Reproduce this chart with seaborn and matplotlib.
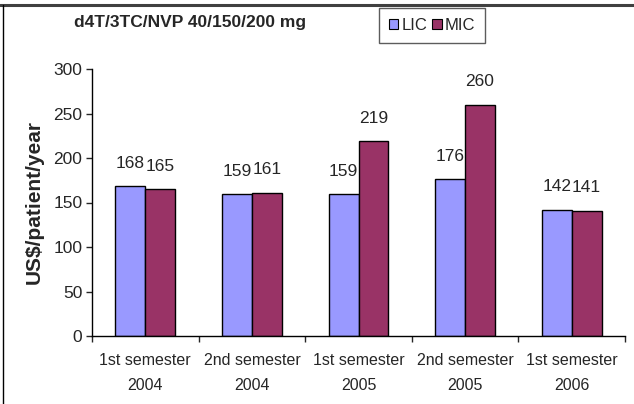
import numpy as np
import pandas as pd
import matplotlib
matplotlib.use('Agg')
import matplotlib.pyplot as plt
import seaborn as sns

# data
periods = ['1st semester\n2004', '2nd semester\n2004', '1st semester\n2005',
           '2nd semester\n2005', '1st semester\n2006']
lic = [168, 159, 159, 176, 142]
mic = [165, 161, 219, 260, 141]
groups = ['LIC', 'MIC']
colors = ['#9999FF', '#993366']

df = pd.DataFrame({
    'period': periods * 2,
    'group': ['LIC'] * len(periods) + ['MIC'] * len(periods),
    'value': lic + mic,
})

sns.set_style('white')
plt.rcParams['font.family'] = ['Liberation Sans', 'DejaVu Sans']

fig = plt.figure(figsize=(6.34, 4.04), dpi=100)
ax = fig.add_axes([92 / 634, 68 / 404, 533 / 634, 267 / 404])

sns.barplot(data=df, x='period', y='value', hue='group', order=periods,
            hue_order=groups, palette=colors, width=0.56, dodge=True,
            edgecolor='black', linewidth=1.0, saturation=1, ax=ax)

for cont in ax.containers:
    ax.bar_label(cont, fmt='%d', padding=11, fontsize=12.5)

ax.set_ylim(0, 300)
ax.set_yticks(np.arange(0, 301, 50))
ax.set_xlim(-0.5, len(periods) - 0.5)
ax.set_xlabel('')
ax.set_ylabel('US$/patient/year', fontsize=15, fontweight='bold', labelpad=7)

for s in ['top', 'right']:
    ax.spines[s].set_visible(False)
for s in ['left', 'bottom']:
    ax.spines[s].set_color('black')
    ax.spines[s].set_linewidth(1.0)

# y ticks outward, x ticks on group boundaries
ax.tick_params(axis='y', which='major', direction='out', length=4, width=1,
               left=True, labelsize=12.5, pad=3)
ax.set_xticks(np.arange(len(periods)))
ax.set_xticklabels(periods, fontsize=11.5, linespacing=1.85)
ax.tick_params(axis='x', which='major', length=0, pad=12)
ax.set_xticks(np.arange(-0.5, len(periods)), minor=True)
ax.tick_params(axis='x', which='minor', direction='out', length=4, width=1,
               bottom=True)

leg = ax.legend(loc='upper left', bbox_to_anchor=(379 / 634, 1 - 8 / 404),
                bbox_transform=fig.transFigure, ncol=2, frameon=True,
                fontsize=12, handlelength=0.55, handleheight=0.55,
                handletextpad=0.2, columnspacing=0.3, borderpad=0.6,
                fancybox=False, borderaxespad=0)
leg.get_frame().set_edgecolor('#333333')
leg.get_frame().set_linewidth(1.0)
for h in leg.legend_handles:
    h.set_edgecolor('black')
    h.set_linewidth(0.8)

fig.text(74 / 634, 1 - 23 / 404, 'd4T/3TC/NVP 40/150/200 mg', fontsize=12.5,
         fontweight='bold', va='center', ha='left')

# outer frame (top and left only)
fig.add_artist(plt.Line2D([0, 1], [1 - 4.5 / 404] * 2, color='#404040',
                          linewidth=2.2, transform=fig.transFigure))
fig.add_artist(plt.Line2D([3 / 634] * 2, [0, 1 - 4.5 / 404], color='black',
                          linewidth=1.0, transform=fig.transFigure))

fig.savefig('out.png', dpi=100)
